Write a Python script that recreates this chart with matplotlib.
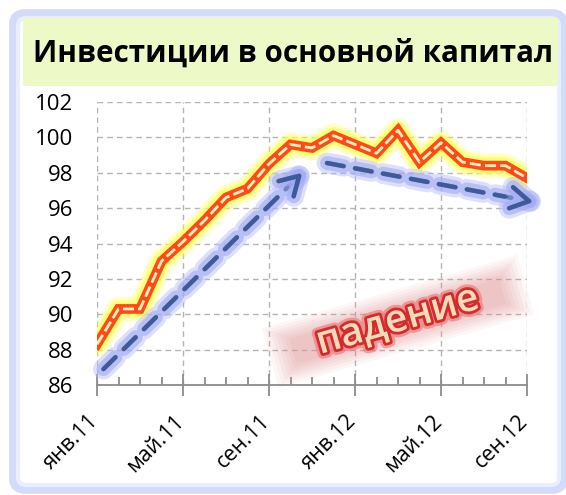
import matplotlib
matplotlib.use('Agg')
import matplotlib.pyplot as plt
import matplotlib.patheffects as pe
from matplotlib.patches import FancyBboxPatch, Rectangle
from matplotlib.transforms import Affine2D, ScaledTranslation
from matplotlib.ticker import MultipleLocator
import numpy as np

plt.rcParams['font.family'] = ['Open Sans', 'DejaVu Sans']

# monthly index, jan 2011 .. sep 2012
months = list(range(21))
values = [88.3, 90.3, 90.3, 93.0, 94.1, 95.3, 96.6, 97.1, 98.5, 99.6, 99.4,
          100.1, 99.6, 99.1, 100.4, 98.6, 99.7, 98.6, 98.4, 98.4, 97.7]
tick_pos = [0, 4, 8, 12, 16, 20]
tick_labels = ['янв.11', 'май.11', 'сен.11', 'янв.12', 'май.12', 'сен.12']
y_ticks = [86, 88, 90, 92, 94, 96, 98, 100, 102]
title = 'Инвестиции в основной капитал'

# trend arrows (start, end) in data units
up_arrow = [(0.3, 86.9), (9.55, 98.0)]
down_arrow = [(10.7, 98.55), (20.3, 96.35)]
label_text = 'падение'
label_pos = (14.0, 89.6)

W, H = 566, 495
fig = plt.figure(figsize=(W / 100, H / 100), dpi=100)
fig.patch.set_facecolor('white')

# outer frame
frame = FancyBboxPatch((14 / W, 6 / H), 549 / W, 475 / H,
                       boxstyle='round,pad=0,rounding_size=0.02',
                       transform=fig.transFigure, fc='white', ec='#d3dbfb', lw=7, zorder=-3)
fig.add_artist(frame)
frame2 = FancyBboxPatch((18 / W, 10 / H), 541 / W, 467 / H,
                        boxstyle='round,pad=0,rounding_size=0.015',
                        transform=fig.transFigure, fc='none', ec='#e9edfd', lw=3, zorder=-2)
fig.add_artist(frame2)

# title box
fig.add_artist(Rectangle((23 / W, 1 - 86 / H), 535 / W, 68 / H,
                         transform=fig.transFigure, fc='#edf9c6', ec='none', zorder=-1))
fig.text(293 / W, 1 - 54 / H, title, ha='center', va='center',
         fontsize=21.3, fontweight='bold', color='black')

ax = fig.add_axes([97 / W, 1 - 385 / H, 430 / W, 283 / H])
ax.set_xlim(0, 20)
ax.set_ylim(86, 102)
ax.set_facecolor('none')

for s in ['top', 'right', 'left']:
    ax.spines[s].set_visible(False)
ax.spines['bottom'].set_color('#8c8c8c')
ax.spines['bottom'].set_linewidth(1.3)

ax.set_yticks(y_ticks)
ax.set_xticks(tick_pos)
ax.set_xticklabels(tick_labels)
ax.xaxis.set_minor_locator(MultipleLocator(1))
ax.grid(True, which='major', color='#b4b4b4', linestyle=(0, (4, 3)), lw=1)
ax.tick_params(axis='y', length=0, pad=17, labelsize=16)
ax.tick_params(axis='x', which='major', direction='inout', length=16,
               color='#8c8c8c', width=1.3, labelsize=15.5, pad=16)
ax.tick_params(axis='x', which='minor', direction='in', length=6,
               color='#8c8c8c', width=1.3)
off = ScaledTranslation(-2 / 100, 0, fig.dpi_scale_trans)
for lab in ax.get_xticklabels():
    lab.set_rotation(45)
    lab.set_ha('right')
    lab.set_va('center')
    lab.set_rotation_mode('anchor')
    lab.set_transform(lab.get_transform() + off)

# glow + main line
ax.plot(months, values, color='#ffff70', lw=18, alpha=0.35, solid_capstyle='round', solid_joinstyle='round')
ax.plot(months, values, color='#ffff40', lw=12.5, alpha=0.6, solid_capstyle='round', solid_joinstyle='round')
ax.plot(months, values, color='#ff4a18', lw=7, solid_joinstyle='miter', zorder=5)
ax.plot(months, values, color='#fff2c0', lw=2, linestyle=(0, (4, 1.5)), zorder=6)


def trend(arrow):
    (x0, y0), (x1, y1) = arrow
    glow = [pe.withStroke(linewidth=15, foreground='#b4bbf6', alpha=0.45),
            pe.withStroke(linewidth=10, foreground='#9fa9f3', alpha=0.6)]
    ax.annotate('', xy=(x1, y1), xytext=(x0, y0), annotation_clip=False,
                arrowprops=dict(arrowstyle='-', color='#3f5a99', lw=3.2,
                                linestyle=(0, (3.8, 2.6)), shrinkA=0, shrinkB=2,
                                path_effects=glow), zorder=4)
    hx = x1 - 0.03 * (x1 - x0)
    hy = y1 - 0.03 * (y1 - y0)
    ax.annotate('', xy=(x1, y1), xytext=(hx, hy), annotation_clip=False,
                arrowprops=dict(arrowstyle='->,head_length=0.6,head_width=0.35',
                                color='#3f5a99', lw=3.2, shrinkA=0, shrinkB=0,
                                mutation_scale=22, path_effects=glow), zorder=4)


trend(up_arrow)
trend(down_arrow)

# "падение" label on blurred pink band
fig.canvas.draw()
cx, cy = ax.transData.transform(label_pos)
rot = Affine2D().rotate_deg_around(cx, cy, 16)
for k, a in zip(range(7), [0.08, 0.08, 0.09, 0.10, 0.10, 0.12, 0.12]):
    w = 266 - 8 * k
    h = 62 - 6 * k
    ax.add_patch(Rectangle((cx - w / 2, cy - h / 2), w, h, transform=rot,
                           fc='#e39494', ec='none', alpha=a, zorder=2, clip_on=False))
ax.text(label_pos[0], label_pos[1], label_text, rotation=16, rotation_mode='anchor',
        ha='center', va='center', fontsize=28, fontweight='semibold', color='#f3dcbc',
        zorder=8,
        path_effects=[pe.withStroke(linewidth=8, foreground='#eb6a6a', alpha=0.55),
                      pe.withStroke(linewidth=4, foreground='#d42b2b')])

fig.savefig('out.png', dpi=100)
